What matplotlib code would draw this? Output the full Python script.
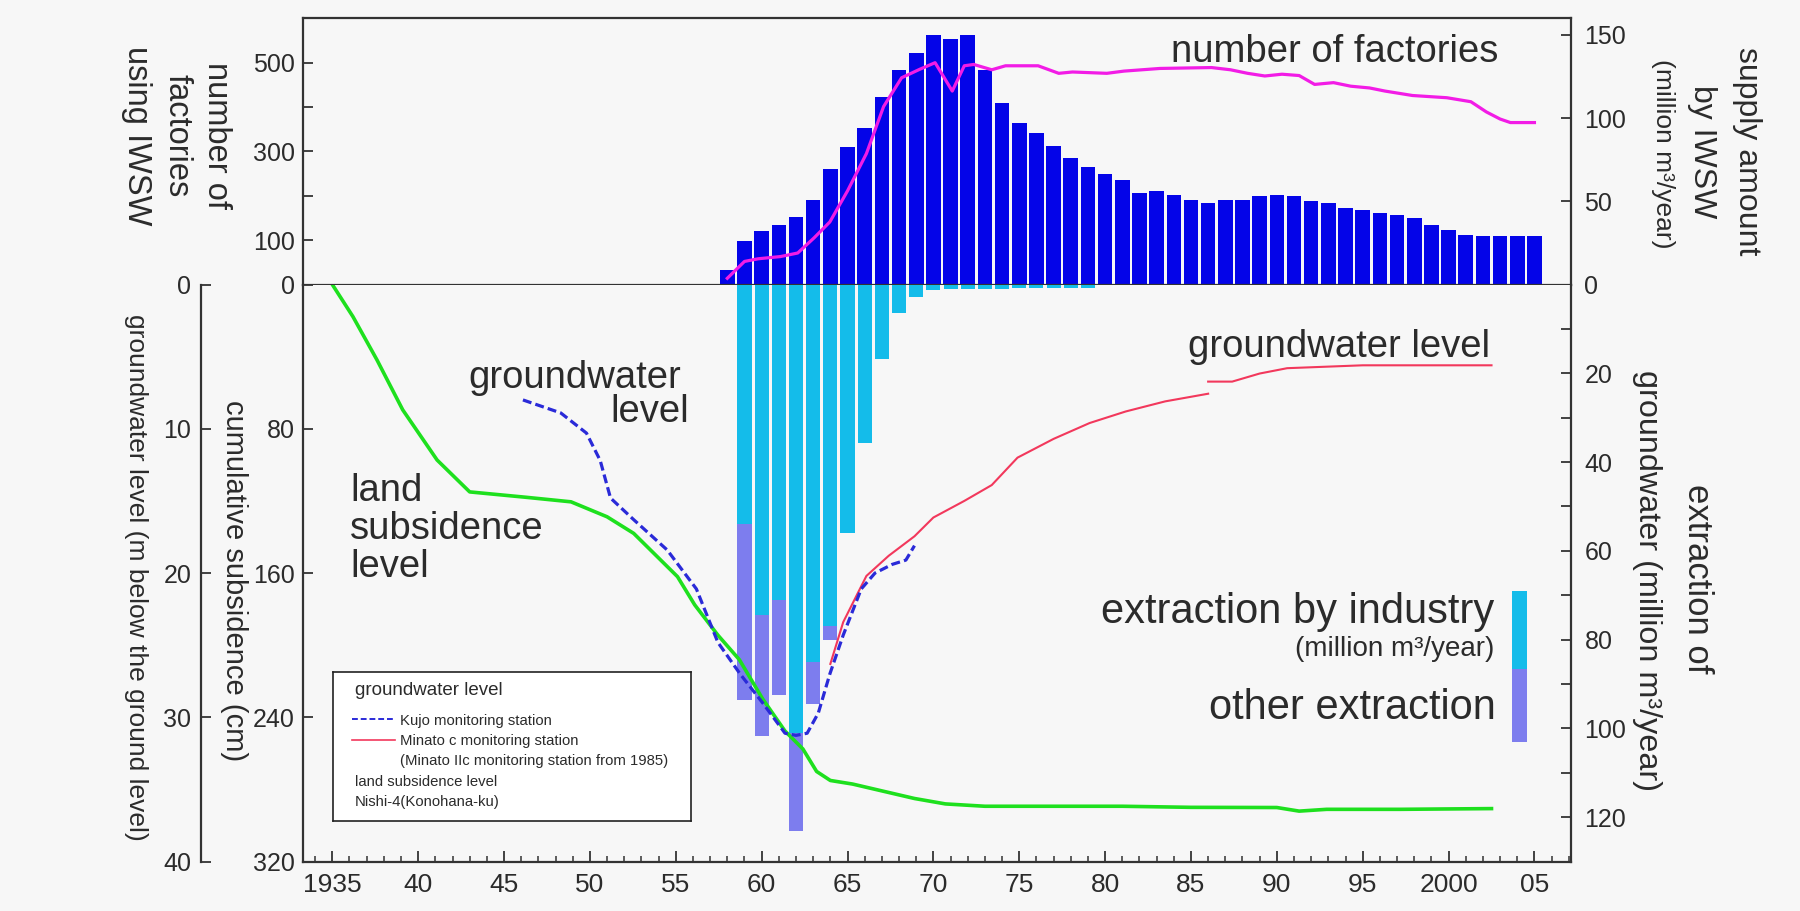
import matplotlib.pyplot as plt
from matplotlib.patches import Rectangle

plt.rcParams['font.family'] = ['Liberation Sans', 'DejaVu Sans']

# upper panel: supply amount by IWSW (million m3/year) and number of factories using IWSW
supply_years = list(range(1958, 2006))
supply = [8.7, 26, 32, 35.5, 40.8, 51, 69.6, 82.7, 94.3, 112.6, 129, 139, 150, 147.6, 150, 129,
          109, 97, 91, 83, 76, 70.6, 66.5, 63, 55, 56, 54, 51, 49, 51, 51, 53, 54, 53, 50, 49,
          46, 45, 43, 42, 40, 36, 33, 30, 29, 29, 29, 29]

factory_years = [1958.0, 1959.0, 1959.8, 1961.1, 1962.1, 1963.05, 1963.97, 1965.0, 1966.1, 1967.1,
                 1968.15, 1969.2, 1970.1, 1971.1, 1971.8, 1972.35, 1973.4, 1974.2, 1976.1, 1977.3,
                 1978.1, 1980.1, 1981.1, 1983.2, 1986.2, 1987.3, 1988.3, 1989.3, 1990.3, 1991.3,
                 1992.2, 1993.3, 1994.3, 1995.4, 1996.3, 1997.9, 1999.9, 2001.3, 2002.2, 2003.0,
                 2003.6, 2005.0]
factories = [14, 52, 58, 63, 71, 105, 141, 211, 295, 401,
             466, 485, 500, 436, 493, 496, 484, 493, 493, 476,
             479, 476, 481, 487, 489, 484, 476, 470, 474, 471,
             451, 455, 447, 443, 436, 426, 421, 412, 389, 373,
             365, 365]

# lower panel: extraction of groundwater (million m3/year)
extract_years = list(range(1959, 1980))
industry = [54, 74.5, 71, 101, 85, 77, 56, 35.6, 16.8, 6.4, 2.8, 1.2, 1.0, 1.0, 0.9, 0.9, 0.8,
            0.8, 0.8, 0.7, 0.7]
other = [39.5, 27.2, 21.5, 22, 9.5, 3, 0, 0, 0, 0, 0, 0, 0, 0, 0, 0, 0, 0, 0, 0, 0]

# land subsidence, Nishi-4 (cumulative, cm)
land_years = [1935, 1936.2, 1937.6, 1939.1, 1941.1, 1943.0, 1946.3, 1948.9, 1951.0, 1952.55,
              1955.1, 1956.1, 1957.45, 1958.7, 1960.06, 1961.36, 1962.4, 1963.2, 1964.0, 1965.3,
              1967.1, 1968.9, 1970.7, 1973.0, 1977.0, 1981.0, 1985.0, 1990.0, 1991.3, 1992.9,
              1997.2, 2002.5]
land_cm = [0, 17.8, 41.8, 69.5, 97.3, 115, 118, 120.5, 128.8, 138,
           162, 177.6, 194.4, 208, 229.8, 247.6, 257.5, 270, 275, 277,
           281, 285, 288, 289.3, 289.3, 289.3, 289.9, 290, 292, 291,
           291, 290.6]

# groundwater level (m below the ground level)
kujo_years = [1946.1, 1948.3, 1949.8, 1950.6, 1951.2, 1952.55, 1954.5, 1956.2, 1957.45, 1958.75,
              1960.06, 1961.36, 1962.0, 1962.65, 1963.3, 1963.97, 1964.75, 1965.8, 1966.6, 1967.6,
              1968.4, 1968.9]
kujo_m = [8.0, 8.9, 10.3, 12.2, 14.8, 16.3, 18.4, 21.1, 24.8, 27.0,
          29.0, 31.1, 31.25, 31.1, 29.7, 27.0, 24.3, 21.1, 20.0, 19.4,
          19.1, 18.1]
minato_years = [1964.0, 1964.75, 1966.1, 1967.4, 1968.9, 1970.0, 1971.8, 1973.4, 1974.9, 1977.0,
                1979.1, 1981.2, 1983.5, 1986.0]
minato_m = [26.3, 23.4, 20.2, 18.8, 17.45, 16.15, 15.0, 13.9, 12.0, 10.7, 9.6, 8.8, 8.1, 7.57]
minato2_years = [1986.0, 1987.4, 1989.0, 1990.6, 1995.0, 2002.5]
minato2_m = [6.73, 6.73, 6.17, 5.8, 5.6, 5.6]

x_ticks = list(range(1935, 2006, 5))
x_labels = ['1935', '40', '45', '50', '55', '60', '65', '70', '75', '80', '85', '90', '95',
            '2000', '05']

BG = '#F7F7F7'
FRAME = '#333333'
TXT = '#2b2b2b'
BLUE_BAR = '#0404E8'
MAGENTA = '#F21CE6'
CYAN = '#14BCEA'
PURPLE = '#7D7DEE'
GREEN = '#1EE01E'
KUJO = '#2A2AD8'
RED = '#F2385C'

fig = plt.figure(figsize=(18, 9.11), dpi=100, facecolor=BG)
L, W = 0.1684, 0.7041
TOP, ZERO, BOT = 0.9799, 0.6877, 0.0542

ax_sup = fig.add_axes([L, ZERO, W, TOP - ZERO], facecolor=BG)
ax_fac = ax_sup.twinx()
ax_ext = fig.add_axes([L, BOT, W, ZERO - BOT], facecolor=BG)
ax_sub = ax_ext.twinx()
ax_gw = ax_ext.twinx()

ax_sup.bar(supply_years, supply, width=0.85, color=BLUE_BAR, linewidth=0)
ax_fac.plot(factory_years, factories, color=MAGENTA, lw=2.3)

ax_ext.bar(extract_years, industry, width=0.82, color=CYAN, linewidth=0)
ax_ext.bar(extract_years, other, bottom=industry, width=0.82, color=PURPLE, linewidth=0)
ax_sub.plot(land_years, land_cm, color=GREEN, lw=2.6)
ax_gw.plot(minato_years, minato_m, color=RED, lw=1.5)
ax_gw.plot(minato2_years, minato2_m, color=RED, lw=1.5)
ax_gw.plot(kujo_years, kujo_m, color=KUJO, lw=2.3, dashes=(2.8, 1.3))

for ax in (ax_sup, ax_fac, ax_ext, ax_sub, ax_gw):
    ax.set_xlim(1933.3, 2007.1)
    for s in ax.spines.values():
        s.set_color(FRAME)
        s.set_linewidth(1.6)
ax_sup.set_ylim(0, 160)
ax_fac.set_ylim(0, 600)
ax_ext.set_ylim(130, 0)
ax_sub.set_ylim(320, 0)
ax_gw.set_ylim(40, 0)

for s in ax_fac.spines.values():
    s.set_visible(False)
for s in ax_sub.spines.values():
    s.set_visible(False)
for name in ('top', 'right', 'bottom'):
    ax_gw.spines[name].set_visible(False)
ax_ext.spines['top'].set_visible(False)
ax_gw.spines['left'].set_position(('axes', -0.0806))

yk = dict(axis='y', direction='in', length=7, width=1.3, color=FRAME, labelcolor=TXT, labelsize=18)

ax_sup.yaxis.tick_right()
ax_sup.set_yticks([0, 50, 100, 150])
ax_sup.tick_params(pad=10, **yk)
ax_sup.tick_params(axis='x', bottom=False, labelbottom=False)

ax_fac.yaxis.tick_left()
ax_fac.set_yticks([0, 100, 200, 300, 400, 500], ['0', '100', '', '300', '', '500'])
ax_fac.tick_params(pad=6, **yk)

ax_ext.yaxis.tick_right()
ext_ticks = list(range(10, 130, 10))
ax_ext.set_yticks(ext_ticks, [str(v) if v % 20 == 0 else '' for v in ext_ticks])
ax_ext.tick_params(pad=10, **yk)
ax_ext.set_xticks(x_ticks, x_labels)
ax_ext.set_xticks(range(1934, 2008), minor=True)
ax_ext.tick_params(axis='x', which='major', direction='in', length=8, width=1.3, color=FRAME,
                   labelcolor=TXT, labelsize=19, pad=8)
ax_ext.tick_params(axis='x', which='minor', direction='in', length=4.5, width=1.1, color=FRAME)

ax_sub.yaxis.tick_left()
ax_sub.set_yticks([0, 80, 160, 240, 320], ['', '80', '160', '240', '320'])
ax_sub.tick_params(pad=6, **yk)

ax_gw.yaxis.tick_left()
ax_gw.set_yticks([0, 10, 20, 30, 40])
ax_gw.tick_params(pad=7, **yk)


def ftext(sx, sy, s, **kw):
    # place text using pixel positions of the 1568x794 reference
    fig.text(sx / 1568, 1 - sy / 794, s, color=TXT, **kw)


# axis titles (rotated)
rot = dict(rotation=270, ha='center', va='center')
ftext(189, 118, 'number of', fontsize=23.5, **rot)
ftext(154, 118, 'factories', fontsize=23.5, **rot)
ftext(119, 118, 'using IWSW', fontsize=23.5, **rot)
ftext(1522, 132, 'supply amount', fontsize=23, **rot)
ftext(1483, 132, 'by IWSW', fontsize=23, **rot)
ftext(1449, 134, '(million m³/year)', fontsize=19, **rot)
ftext(118.5, 503, 'groundwater level (m below the ground level)', fontsize=19, **rot)
ftext(204, 506, 'cumulative subsidence (cm)', fontsize=21, **rot)
ftext(1479, 504, 'extraction of', fontsize=25, **rot)
ftext(1435, 506, 'groundwater (million m³/year)', fontsize=23.3, **rot)

# in-plot annotations
ftext(1020, 54, 'number of factories', fontsize=27.5, va='baseline')
ftext(1035, 311, 'groundwater level', fontsize=27.5, va='baseline')
ftext(408, 338, 'groundwater', fontsize=27.5, va='baseline')
ftext(600, 367.5, 'level', fontsize=27.5, va='baseline', ha='right')
ftext(305, 437, 'land', fontsize=27.5, va='baseline')
ftext(305, 469.8, 'subsidence', fontsize=27.5, va='baseline')
ftext(305, 502.9, 'level', fontsize=27.5, va='baseline')
ftext(1302, 543, 'extraction by industry', fontsize=30, va='baseline', ha='right')
ftext(1302, 572, '(million m³/year)', fontsize=20, va='baseline', ha='right')
ftext(1303.5, 627, 'other extraction', fontsize=30, va='baseline', ha='right')

# colour key for the extraction bars
fig.patches.append(Rectangle((1317 / 1568, 1 - 583 / 794), 13 / 1568, 68 / 794,
                             transform=fig.transFigure, color=CYAN, lw=0))
fig.patches.append(Rectangle((1317 / 1568, 1 - 647 / 794), 13 / 1568, 64 / 794,
                             transform=fig.transFigure, color=PURPLE, lw=0))

# legend box
ax_leg = fig.add_axes([0.1848, 0.0986, 0.1989, 0.1634], facecolor='white')
ax_leg.set_xlim(0, 1)
ax_leg.set_ylim(0, 1)
ax_leg.set_xticks([])
ax_leg.set_yticks([])
for s in ax_leg.spines.values():
    s.set_color('#222222')
    s.set_linewidth(1.2)
ax_leg.text(0.062, 0.850, 'groundwater level', fontsize=13.5, color=TXT, va='baseline')
ax_leg.plot([0.055, 0.171], [0.684, 0.684], color=KUJO, lw=1.4, dashes=(3, 1.5))
ax_leg.text(0.188, 0.649, 'Kujo monitoring station', fontsize=10.7, color=TXT, va='baseline')
ax_leg.plot([0.055, 0.175], [0.548, 0.548], color=RED, lw=1.2)
ax_leg.text(0.188, 0.514, 'Minato c monitoring station', fontsize=10.7, color=TXT, va='baseline')
ax_leg.text(0.188, 0.380, '(Minato IIc monitoring station from 1985)', fontsize=10.7, color=TXT,
            va='baseline')
ax_leg.text(0.062, 0.239, 'land subsidence level', fontsize=10.7, color=TXT, va='baseline')
ax_leg.text(0.062, 0.100, 'Nishi-4(Konohana-ku)', fontsize=10.7, color=TXT, va='baseline')

fig.savefig('out.png', dpi=100, facecolor=BG)
